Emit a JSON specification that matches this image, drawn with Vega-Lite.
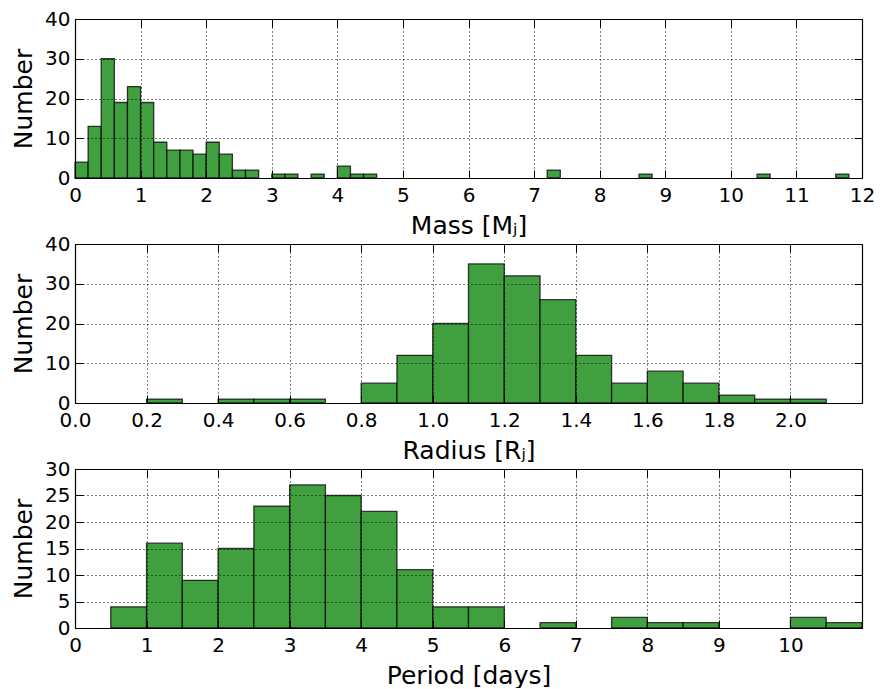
{
  "$schema": "https://vega.github.io/schema/vega-lite/v6.json",
  "padding": {"left": 11, "top": 9, "right": 5, "bottom": 0},
  "background": "white",
  "spacing": 66,
  "bounds": "flush",
  "config": {
    "view": {"stroke": null},
    "axis": {
      "labelFont": "DejaVu Sans", "labelFontSize": 20, "labelColor": "black",
      "titleFont": "DejaVu Sans", "titleFontSize": 25, "titleFontWeight": "normal", "titleColor": "black",
      "tickColor": "black", "tickSize": -8, "tickWidth": 1,
      "domainColor": "black", "domainWidth": 1.2,
      "gridColor": "black", "gridDash": [1, 3], "gridOpacity": 1, "gridWidth": 1,
      "labelFlush": false, "labelOverlap": false
    }
  },
  "vconcat": [
    {
      "width": 787, "height": 159,
      "data": {"values": [
        {"lo": 0.0, "hi": 0.2, "n": 4}, {"lo": 0.2, "hi": 0.4, "n": 13}, {"lo": 0.4, "hi": 0.6, "n": 30},
        {"lo": 0.6, "hi": 0.8, "n": 19}, {"lo": 0.8, "hi": 1.0, "n": 23}, {"lo": 1.0, "hi": 1.2, "n": 19},
        {"lo": 1.2, "hi": 1.4, "n": 9}, {"lo": 1.4, "hi": 1.6, "n": 7}, {"lo": 1.6, "hi": 1.8, "n": 7},
        {"lo": 1.8, "hi": 2.0, "n": 6}, {"lo": 2.0, "hi": 2.2, "n": 9}, {"lo": 2.2, "hi": 2.4, "n": 6},
        {"lo": 2.4, "hi": 2.6, "n": 2}, {"lo": 2.6, "hi": 2.8, "n": 2}, {"lo": 3.0, "hi": 3.2, "n": 1},
        {"lo": 3.2, "hi": 3.4, "n": 1}, {"lo": 3.6, "hi": 3.8, "n": 1}, {"lo": 4.0, "hi": 4.2, "n": 3},
        {"lo": 4.2, "hi": 4.4, "n": 1}, {"lo": 4.4, "hi": 4.6, "n": 1}, {"lo": 7.2, "hi": 7.4, "n": 2},
        {"lo": 8.6, "hi": 8.8, "n": 1}, {"lo": 10.4, "hi": 10.6, "n": 1}, {"lo": 11.6, "hi": 11.8, "n": 1}
      ]},
      "layer": [
        {
          "mark": {"type": "bar", "fill": "#40a040", "stroke": "#000", "strokeOpacity": 0.75, "strokeWidth": 1.3},
          "encoding": {
            "x": {"field": "lo", "type": "quantitative", "scale": {"domain": [0, 12], "nice": false},
                  "axis": {"orient": "bottom", "values": [0,1,2,3,4,5,6,7,8,9,10,11,12], "title": "Mass [Mⱼ]", "grid": true, "labelPadding": 15, "titlePadding": 8, "zindex": 1}},
            "x2": {"field": "hi"},
            "y": {"field": "n", "type": "quantitative", "scale": {"domain": [0, 40], "nice": false},
                  "axis": {"orient": "left", "values": [0,10,20,30,40], "title": "Number", "grid": true, "labelPadding": 13, "titlePadding": 8, "zindex": 1}},
            "y2": {"datum": 0}
          }
        },
        {
          "mark": {"type": "bar", "opacity": 0},
          "encoding": {
            "x": {"field": "lo", "type": "quantitative", "scale": {"domain": [0, 12], "nice": false},
                  "axis": {"orient": "top", "values": [0,1,2,3,4,5,6,7,8,9,10,11,12], "title": null, "labels": false, "grid": false, "zindex": 1}},
            "x2": {"field": "hi"},
            "y": {"field": "n", "type": "quantitative", "scale": {"domain": [0, 40], "nice": false},
                  "axis": {"orient": "right", "values": [0,10,20,30,40], "title": null, "labels": false, "grid": false, "zindex": 1}},
            "y2": {"datum": 0}
          }
        }
      ],
      "resolve": {"axis": {"x": "independent", "y": "independent"}}
    },
    {
      "width": 787, "height": 159,
      "data": {"values": [
        {"lo": 0.2, "hi": 0.3, "n": 1}, {"lo": 0.4, "hi": 0.5, "n": 1}, {"lo": 0.5, "hi": 0.6, "n": 1},
        {"lo": 0.6, "hi": 0.7, "n": 1}, {"lo": 0.8, "hi": 0.9, "n": 5}, {"lo": 0.9, "hi": 1.0, "n": 12},
        {"lo": 1.0, "hi": 1.1, "n": 20}, {"lo": 1.1, "hi": 1.2, "n": 35}, {"lo": 1.2, "hi": 1.3, "n": 32},
        {"lo": 1.3, "hi": 1.4, "n": 26}, {"lo": 1.4, "hi": 1.5, "n": 12}, {"lo": 1.5, "hi": 1.6, "n": 5},
        {"lo": 1.6, "hi": 1.7, "n": 8}, {"lo": 1.7, "hi": 1.8, "n": 5}, {"lo": 1.8, "hi": 1.9, "n": 2},
        {"lo": 1.9, "hi": 2.0, "n": 1}, {"lo": 2.0, "hi": 2.1, "n": 1}
      ]},
      "layer": [
        {
          "mark": {"type": "bar", "fill": "#40a040", "stroke": "#000", "strokeOpacity": 0.75, "strokeWidth": 1.3},
          "encoding": {
            "x": {"field": "lo", "type": "quantitative", "scale": {"domain": [0, 2.2], "nice": false},
                  "axis": {"orient": "bottom", "values": [0,0.2,0.4,0.6,0.8,1.0,1.2,1.4,1.6,1.8,2.0], "format": ".1f", "title": "Radius [Rⱼ]", "grid": true, "labelPadding": 15, "titlePadding": 8, "zindex": 1}},
            "x2": {"field": "hi"},
            "y": {"field": "n", "type": "quantitative", "scale": {"domain": [0, 40], "nice": false},
                  "axis": {"orient": "left", "values": [0,10,20,30,40], "title": "Number", "grid": true, "labelPadding": 13, "titlePadding": 8, "zindex": 1}},
            "y2": {"datum": 0}
          }
        },
        {
          "mark": {"type": "bar", "opacity": 0},
          "encoding": {
            "x": {"field": "lo", "type": "quantitative", "scale": {"domain": [0, 2.2], "nice": false},
                  "axis": {"orient": "top", "values": [0,0.2,0.4,0.6,0.8,1.0,1.2,1.4,1.6,1.8,2.0], "title": null, "labels": false, "grid": false, "zindex": 1}},
            "x2": {"field": "hi"},
            "y": {"field": "n", "type": "quantitative", "scale": {"domain": [0, 40], "nice": false},
                  "axis": {"orient": "right", "values": [0,10,20,30,40], "title": null, "labels": false, "grid": false, "zindex": 1}},
            "y2": {"datum": 0}
          }
        }
      ],
      "resolve": {"axis": {"x": "independent", "y": "independent"}}
    },
    {
      "width": 787, "height": 159,
      "data": {"values": [
        {"lo": 0.5, "hi": 1.0, "n": 4}, {"lo": 1.0, "hi": 1.5, "n": 16}, {"lo": 1.5, "hi": 2.0, "n": 9},
        {"lo": 2.0, "hi": 2.5, "n": 15}, {"lo": 2.5, "hi": 3.0, "n": 23}, {"lo": 3.0, "hi": 3.5, "n": 27},
        {"lo": 3.5, "hi": 4.0, "n": 25}, {"lo": 4.0, "hi": 4.5, "n": 22}, {"lo": 4.5, "hi": 5.0, "n": 11},
        {"lo": 5.0, "hi": 5.5, "n": 4}, {"lo": 5.5, "hi": 6.0, "n": 4}, {"lo": 6.5, "hi": 7.0, "n": 1},
        {"lo": 7.5, "hi": 8.0, "n": 2}, {"lo": 8.0, "hi": 8.5, "n": 1}, {"lo": 8.5, "hi": 9.0, "n": 1},
        {"lo": 10.0, "hi": 10.5, "n": 2}, {"lo": 10.5, "hi": 11.0, "n": 1}
      ]},
      "layer": [
        {
          "mark": {"type": "bar", "fill": "#40a040", "stroke": "#000", "strokeOpacity": 0.75, "strokeWidth": 1.3},
          "encoding": {
            "x": {"field": "lo", "type": "quantitative", "scale": {"domain": [0, 11], "nice": false},
                  "axis": {"orient": "bottom", "values": [0,1,2,3,4,5,6,7,8,9,10], "title": "Period [days]", "grid": true, "labelPadding": 15, "titlePadding": 8, "zindex": 1}},
            "x2": {"field": "hi"},
            "y": {"field": "n", "type": "quantitative", "scale": {"domain": [0, 30], "nice": false},
                  "axis": {"orient": "left", "values": [0,5,10,15,20,25,30], "title": "Number", "grid": true, "labelPadding": 13, "titlePadding": 8, "zindex": 1}},
            "y2": {"datum": 0}
          }
        },
        {
          "mark": {"type": "bar", "opacity": 0},
          "encoding": {
            "x": {"field": "lo", "type": "quantitative", "scale": {"domain": [0, 11], "nice": false},
                  "axis": {"orient": "top", "values": [0,1,2,3,4,5,6,7,8,9,10], "title": null, "labels": false, "grid": false, "zindex": 1}},
            "x2": {"field": "hi"},
            "y": {"field": "n", "type": "quantitative", "scale": {"domain": [0, 30], "nice": false},
                  "axis": {"orient": "right", "values": [0,5,10,15,20,25,30], "title": null, "labels": false, "grid": false, "zindex": 1}},
            "y2": {"datum": 0}
          }
        }
      ],
      "resolve": {"axis": {"x": "independent", "y": "independent"}}
    }
  ]
}
